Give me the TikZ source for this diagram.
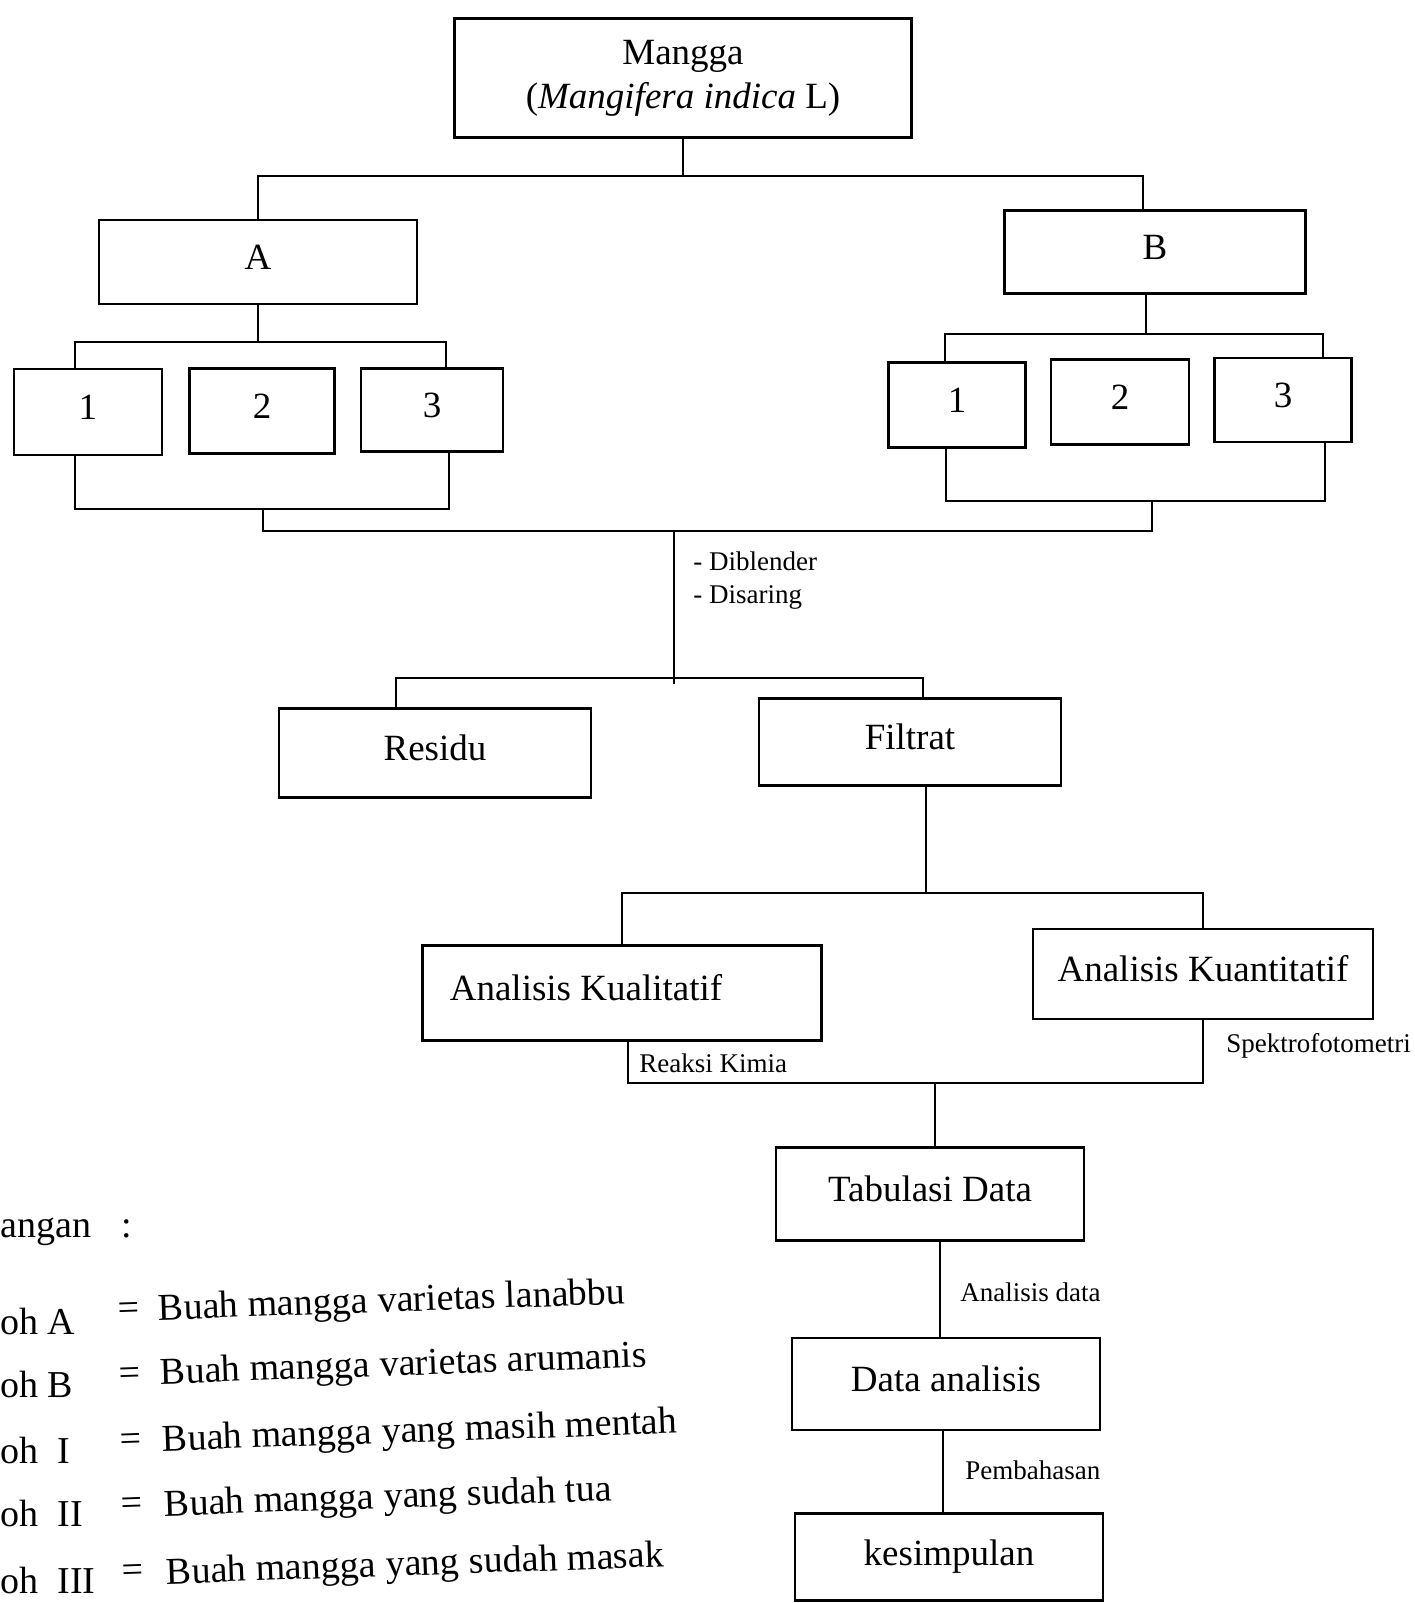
\documentclass[tikz,border=0pt]{standalone}
\usepackage{fontspec}
\setmainfont{Liberation Serif}
\newcommand\bigtxt{\fontsize{18.5pt}{22pt}\selectfont}
\newcommand\smtxt{\fontsize{13.5pt}{16.5pt}\selectfont}
\newcommand\legtxt{\fontsize{19pt}{22pt}\selectfont}
\tikzset{
  bx/.style n args={2}{draw, rectangle, line width=1.3pt, inner sep=0pt,
    minimum width=#1*0.5pt, minimum height=#2*0.5pt, font=\bigtxt, align=center},
  one/.style={text height=13pt, text depth=6pt},
  lbl/.style={font=\smtxt, inner sep=0pt, anchor=west},
  leg/.style={font=\legtxt, inner sep=0pt, anchor=west},
  conn/.style={line width=1.2pt},
}
\begin{document}
\begin{tikzpicture}[x=0.5pt, y=-0.5pt]
\useasboundingbox (0,0) rectangle (1415,1603);
\fill[white] (0,0) rectangle (1415,1603);

% boxes
\node[bx={457}{119}] (mangga) at (683,78) {Mangga\\(\textit{Mangifera indica} L)};
\node[bx={318}{84}, one] (A) at (258,262) {A};
\node[bx={301}{83}, one] (B) at (1155,252) {B};
\node[bx={148}{86}, one] (A1) at (88,412) {1};
\node[bx={145}{85}, one] (A2) at (262,411) {2};
\node[bx={142}{83}, one] (A3) at (432,410) {3};
\node[bx={137}{85}, one] (B1) at (957,405) {1};
\node[bx={138}{85}, one] (B2) at (1120,402) {2};
\node[bx={137}{84}, one] (B3) at (1283,400) {3};
\node[bx={312}{89}, one] (Residu) at (435,753) {Residu};
\node[bx={302}{87}, one] (Filtrat) at (910,742) {Filtrat};
\node[bx={399}{95}, one] (Kual) at (622,993) {Analisis Kualitatif\hspace*{36pt}};
\node[bx={340}{90}, one] (Kuan) at (1203,974) {Analisis Kuantitatif};
\node[bx={308}{93}, one] (Tab) at (930,1194) {Tabulasi Data};
\node[bx={308}{92}, one] (Data) at (946,1384) {Data analisis};
\node[bx={308}{87}] (Kes) at (949,1557) {kesimpulan};

% junctions
\coordinate (jTop) at (683,176);
\coordinate (jA) at (258,342);
\coordinate (jAb) at (263,509);
\coordinate (jB) at (1146,334);
\coordinate (jBb) at (1152,501);
\coordinate (jM) at (674,531);
\coordinate (jF) at (674,678);
\coordinate (jK) at (926,893);
\coordinate (jT) at (935,1083);

% connectors
\draw[conn] (mangga.south) -- (jTop);
\draw[conn] (A.north) -- (A.north |- jTop) -- ([xshift=-6pt]B.north |- jTop) -- ([xshift=-6pt]B.north);

\draw[conn] (A.south) -- (jA);
\draw[conn] ([xshift=-6.5pt]A1.north) |- (jA) -| ([xshift=7pt]A3.north);
\draw[conn] ([xshift=-6.5pt]A1.south) |- (jAb) -| ([xshift=8.5pt]A3.south);

\draw[conn] ([xshift=-4.5pt]B.south) -- (jB);
\draw[conn] ([xshift=-6pt]B1.north) |- (jB) -| ([xshift=20pt]B3.north);
\draw[conn] ([xshift=-5.5pt]B1.south) |- (jBb) -| ([xshift=21pt]B3.south);

\draw[conn] (jAb) -- (jAb |- jM) -- (jBb |- jM) -- (jBb);
\draw[conn] (jM) -- ([yshift=-3pt]jF);
\draw[conn] ([xshift=-19.5pt]Residu.north) |- (jF) -| ([xshift=6.5pt]Filtrat.north);

\draw[conn] ([xshift=8pt]Filtrat.south) -- (jK);
\draw[conn] (Kual.north) |- (jK) -| (Kuan.north);

\draw[conn] ([xshift=3pt]Kual.south) |- (jT) -| (Kuan.south);
\draw[conn] (jT) -- (jT |- Tab.north);
\draw[conn] ([xshift=-3pt]Data.north) -- ([xshift=-3pt]Data.north |- Tab.south);
\draw[conn] ([xshift=-1.5pt]Data.south) -- ([xshift=-1.5pt]Data.south |- Kes.north);

% labels
\node[lbl, align=left] (proc) at (693,581) {- Diblender\\- Disaring};
\node[lbl] (reaksi) at (639,1063) {Reaksi Kimia};
\node[lbl] (spektro) at (1226,1046) {Spektrofotometri};
\node[lbl] (andata) at (960,1292) {Analisis data};
\node[lbl] (bahas) at (965,1470) {Pembahasan};

% legend
\node[leg] (ket) at (0,1232) {angan\hspace{15pt}:};
\node[leg] (legA) at (0,1321) {oh A};
\node[leg] (legB) at (0,1384) {oh B};
\node[leg] (legI) at (0,1450) {oh~~I};
\node[leg] (legII) at (0,1513) {oh~~II};
\node[leg] (legIII) at (0,1580) {oh~~III};
\node[leg, rotate=2] (eqA) at (118,1312) {=};
\node[leg, rotate=2] (eqB) at (119,1377) {=};
\node[leg, rotate=2] (eqI) at (120,1443) {=};
\node[leg, rotate=2] (eqII) at (121,1507) {=};
\node[leg, rotate=2] (eqIII) at (122,1574) {=};
\node[leg, rotate=2] (txA) at (158,1311) {Buah mangga varietas lanabbu};
\node[leg, rotate=2] (txB) at (160,1375) {Buah mangga varietas arumanis};
\node[leg, rotate=2] (txI) at (162,1442) {Buah mangga yang masih mentah};
\node[leg, rotate=2] (txII) at (164,1507) {Buah mangga yang sudah tua};
\node[leg, rotate=2] (txIII) at (166,1575) {Buah mangga yang sudah masak};
\end{tikzpicture}
\end{document}
